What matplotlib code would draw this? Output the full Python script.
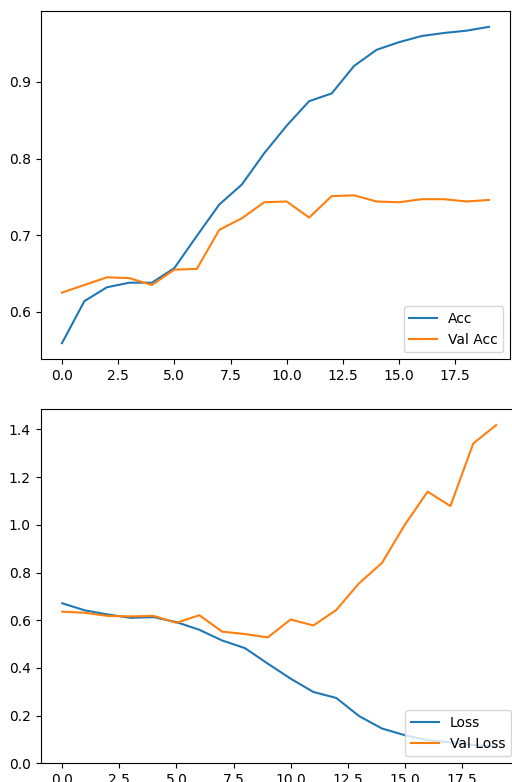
import matplotlib
matplotlib.use("Agg")
import matplotlib.pyplot as plt
import numpy as np

# training history
epochs = np.arange(20)

acc = [0.559, 0.614, 0.632, 0.638, 0.638, 0.657, 0.699, 0.740, 0.766, 0.807,
       0.843, 0.875, 0.885, 0.921, 0.942, 0.952, 0.960, 0.964, 0.967, 0.972]
val_acc = [0.625, 0.635, 0.645, 0.644, 0.635, 0.655, 0.656, 0.707, 0.722, 0.743,
           0.744, 0.723, 0.751, 0.752, 0.744, 0.743, 0.747, 0.747, 0.744, 0.746]

loss = [0.671, 0.641, 0.624, 0.610, 0.613, 0.592, 0.560, 0.515, 0.483, 0.418,
        0.355, 0.299, 0.274, 0.198, 0.146, 0.118, 0.097, 0.088, 0.077, 0.070]
val_loss = [0.636, 0.631, 0.618, 0.616, 0.618, 0.589, 0.621, 0.552, 0.542, 0.528,
            0.603, 0.578, 0.643, 0.755, 0.840, 1.000, 1.139, 1.079, 1.341, 1.418]

fig = plt.figure(figsize=(5.12, 7.82), dpi=100)

# top panel: accuracy
ax1 = fig.add_axes([0.0793, 0.5409, 0.9174, 0.445])
ax1.plot(epochs, acc, label="Acc")
ax1.plot(epochs, val_acc, label="Val Acc")
ax1.legend(loc="lower right")

# bottom panel: loss (right edge runs past the canvas, as in the reference)
ax2 = fig.add_axes([0.0793, 0.0239, 0.932, 0.453])
ax2.plot(epochs, loss, label="Loss")
ax2.plot(epochs, val_loss, label="Val Loss")
ax2.set_ylim(bottom=0.0)
ax2.legend(loc="lower right")

fig.savefig("out.png", dpi=100)
